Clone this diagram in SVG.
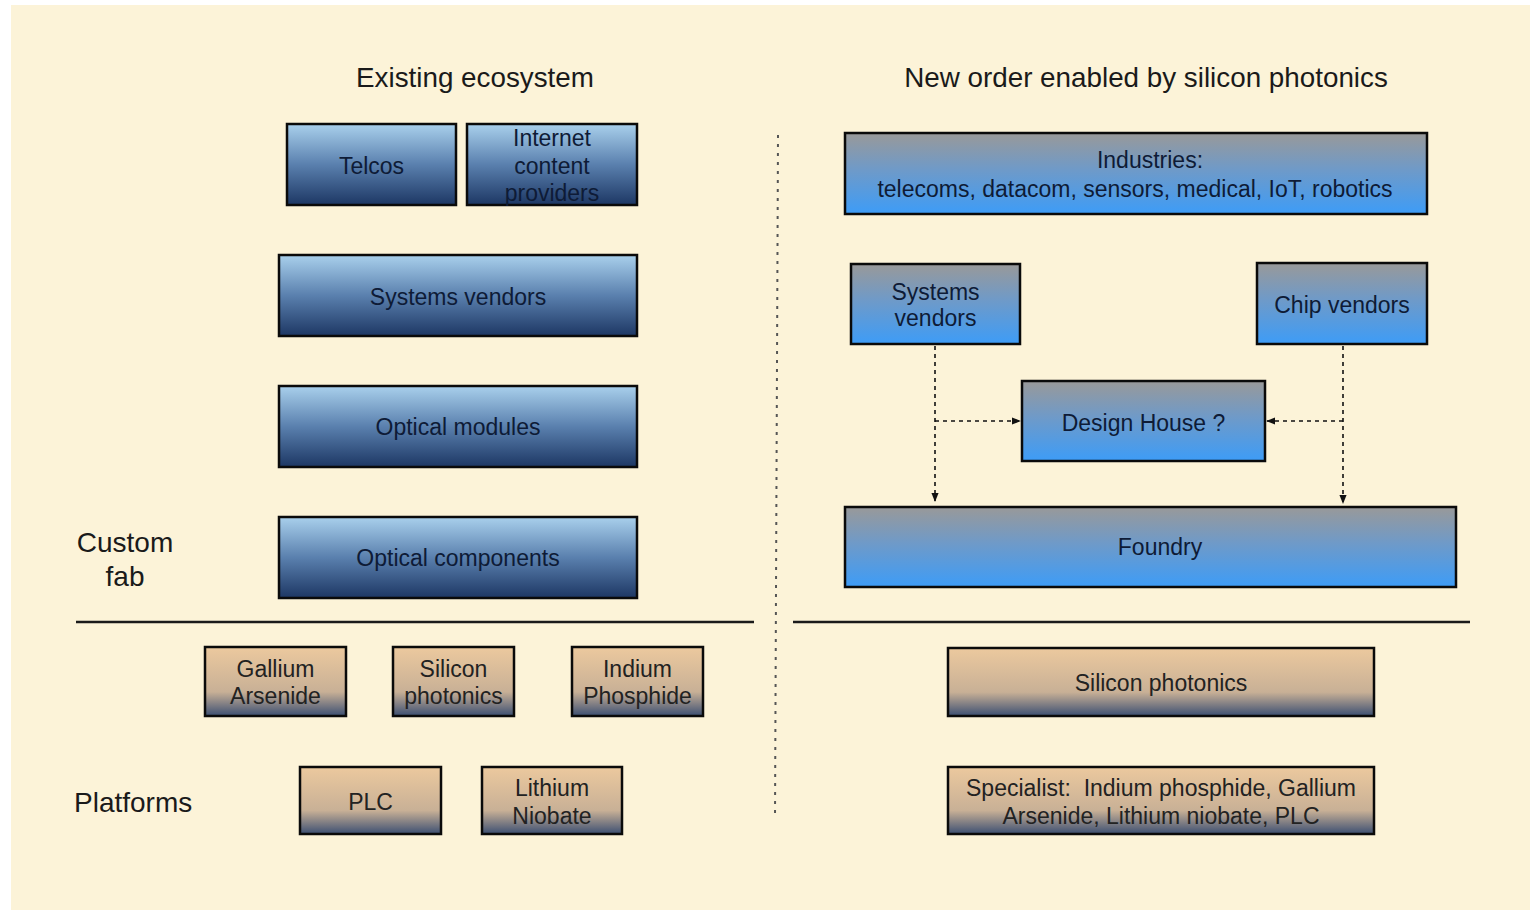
<svg xmlns="http://www.w3.org/2000/svg" width="1530" height="910" viewBox="0 0 1530 910">
  <defs>
    <linearGradient id="gNavy" x1="0" y1="0" x2="0" y2="1">
      <stop offset="0" stop-color="#a9d0ec"/>
      <stop offset="0.5" stop-color="#5a80ae"/>
      <stop offset="1" stop-color="#1d3764"/>
    </linearGradient>
    <linearGradient id="gBright" x1="0" y1="0" x2="0" y2="1">
      <stop offset="0" stop-color="#999999"/>
      <stop offset="0.45" stop-color="#6f9ac8"/>
      <stop offset="1" stop-color="#3d9cf7"/>
    </linearGradient>
    <linearGradient id="gTan" x1="0" y1="0" x2="0" y2="1">
      <stop offset="0" stop-color="#ecc99e"/>
      <stop offset="0.65" stop-color="#c8b096"/>
      <stop offset="1" stop-color="#3c4f72"/>
    </linearGradient>
    <marker id="arrow" viewBox="0 0 10 10" refX="9" refY="5" markerWidth="9" markerHeight="9" markerUnits="userSpaceOnUse" orient="auto">
      <path d="M0,1 L10,5 L0,9 Z" fill="#111"/>
    </marker>
    <style>
      text { font-family: "Liberation Sans", Arial, sans-serif; text-anchor: middle; white-space: pre; }
      .title { font-size: 27.8px; fill: #1a1a1a; }
      .side { font-size: 28px; fill: #1a1a1a; }
      .lbl { font-size: 23px; fill: #0e1b36; }
      .tlbl { font-size: 23px; fill: #222222; }
      .navy { fill: url(#gNavy); stroke: #0a0a0a; stroke-width: 2.5; }
      .bright { fill: url(#gBright); stroke: #0a0a0a; stroke-width: 2.5; }
      .tan { fill: url(#gTan); stroke: #0a0a0a; stroke-width: 2.5; }
      .rule { stroke: #1a1a1a; stroke-width: 2.5; }
      .divider { stroke: #555555; stroke-width: 2; stroke-dasharray: 3 6; fill: none; }
      .flow { stroke: #111111; stroke-width: 1.6; stroke-dasharray: 4 4; fill: none; }
    </style>
  </defs>

  <!-- page -->
  <rect x="0" y="0" width="1530" height="910" fill="#ffffff"/>
  <rect x="11" y="5" width="1519" height="905" fill="#fcf3d8"/>

  <!-- headings and side labels -->
  <text class="title" x="475" y="87">Existing ecosystem</text>
  <text class="title" x="1146" y="87">New order enabled by silicon photonics</text>
  <text class="side" x="125" y="552">Custom</text>
  <text class="side" x="125" y="586">fab</text>
  <text class="side" x="74" y="812" style="text-anchor:start">Platforms</text>

  <!-- separators -->
  <line class="rule" x1="76" y1="622" x2="754" y2="622"/>
  <line class="rule" x1="793" y1="622" x2="1470" y2="622"/>
  <line class="divider" x1="778" y1="135" x2="775" y2="818"/>

  <!-- existing ecosystem -->
  <g id="telcos">
    <rect class="navy" x="287" y="124" width="169" height="81"/>
    <text class="lbl" x="371.5" y="174">Telcos</text>
  </g>
  <g id="icp">
    <rect class="navy" x="467" y="124" width="170" height="81"/>
    <text class="lbl" x="552" y="146">Internet</text>
    <text class="lbl" x="552" y="174">content</text>
    <text class="lbl" x="552" y="201">providers</text>
  </g>
  <g id="systems-vendors-left">
    <rect class="navy" x="279" y="255" width="358" height="81"/>
    <text class="lbl" x="458" y="305">Systems vendors</text>
  </g>
  <g id="optical-modules">
    <rect class="navy" x="279" y="386" width="358" height="81"/>
    <text class="lbl" x="458" y="435">Optical modules</text>
  </g>
  <g id="optical-components">
    <rect class="navy" x="279" y="517" width="358" height="81"/>
    <text class="lbl" x="458" y="566">Optical components</text>
  </g>
  <g id="gaas">
    <rect class="tan" x="205" y="647" width="141" height="69"/>
    <text class="tlbl" x="275.5" y="677">Gallium</text>
    <text class="tlbl" x="275.5" y="704">Arsenide</text>
  </g>
  <g id="si-left">
    <rect class="tan" x="393" y="647" width="121" height="69"/>
    <text class="tlbl" x="453.5" y="677">Silicon</text>
    <text class="tlbl" x="453.5" y="704">photonics</text>
  </g>
  <g id="inp">
    <rect class="tan" x="572" y="647" width="131" height="69"/>
    <text class="tlbl" x="637.5" y="677">Indium</text>
    <text class="tlbl" x="637.5" y="704">Phosphide</text>
  </g>
  <g id="plc">
    <rect class="tan" x="300" y="767" width="141" height="67"/>
    <text class="tlbl" x="370.5" y="810">PLC</text>
  </g>
  <g id="linbo">
    <rect class="tan" x="482" y="767" width="140" height="67"/>
    <text class="tlbl" x="552" y="796">Lithium</text>
    <text class="tlbl" x="552" y="824">Niobate</text>
  </g>

  <!-- new order -->
  <g id="industries">
    <rect class="bright" x="845" y="133" width="582" height="81"/>
    <text class="lbl" x="1150" y="168">Industries:</text>
    <text class="lbl" x="1135" y="197">telecoms, datacom, sensors, medical, IoT, robotics</text>
  </g>
  <g id="systems-vendors-right">
    <rect class="bright" x="851" y="264" width="169" height="80"/>
    <text class="lbl" x="935.5" y="300">Systems</text>
    <text class="lbl" x="935.5" y="326">vendors</text>
  </g>
  <g id="chip-vendors">
    <rect class="bright" x="1257" y="263" width="170" height="81"/>
    <text class="lbl" x="1342" y="313">Chip vendors</text>
  </g>
  <g id="design-house">
    <rect class="bright" x="1022" y="381" width="243" height="80"/>
    <text class="lbl" x="1143.5" y="431">Design House ?</text>
  </g>
  <g id="foundry">
    <rect class="bright" x="845" y="507" width="611" height="80"/>
    <text class="lbl" x="1160" y="555">Foundry</text>
  </g>
  <g id="si-right">
    <rect class="tan" x="948" y="648" width="426" height="68"/>
    <text class="tlbl" x="1161" y="691">Silicon photonics</text>
  </g>
  <g id="specialist">
    <rect class="tan" x="948" y="767" width="426" height="67"/>
    <text class="tlbl" x="1161" y="796">Specialist:  Indium phosphide, Gallium</text>
    <text class="tlbl" x="1161" y="824">Arsenide, Lithium niobate, PLC</text>
  </g>

  <!-- connectors -->
  <g id="connectors">
    <path class="flow" d="M935,346 L935,501" marker-end="url(#arrow)"/>
    <path class="flow" d="M935,421 L1020,421" marker-end="url(#arrow)"/>
    <path class="flow" d="M1343,346 L1343,503" marker-end="url(#arrow)"/>
    <path class="flow" d="M1343,421 L1267,421" marker-end="url(#arrow)"/>
  </g>
</svg>
